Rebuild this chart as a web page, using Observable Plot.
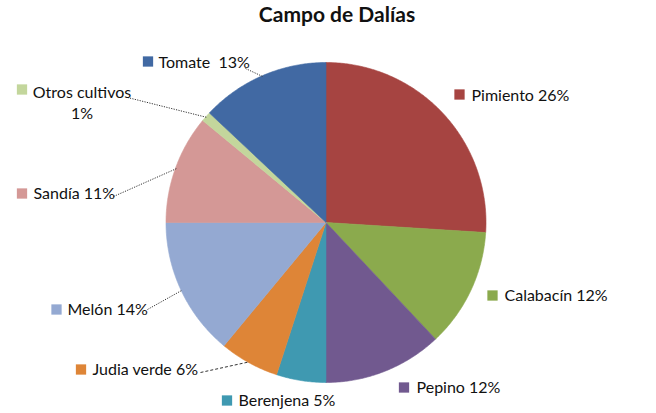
<!DOCTYPE html>
<html>
<head>
<meta charset="utf-8">
<script src="https://cdn.jsdelivr.net/npm/d3@7"></script>
<script src="https://cdn.jsdelivr.net/npm/@observablehq/plot@0.6"></script>
<style>
  body { margin: 0; background: #fff; }
  #chart svg { display: block; }
</style>
</head>
<body>
<div id="chart"></div>
<script>
// ---- data ----
const title = "Campo de Dalías";
const categories = ["Pimiento", "Calabacín", "Pepino", "Berenjena", "Judia verde", "Melón", "Sandía", "Otros cultivos", "Tomate"];
const values = [26, 12, 12, 5, 6, 14, 11, 1, 13];
const labelTexts = ["Pimiento 26%", "Calabacín 12%", "Pepino 12%", "Berenjena 5%", "Judia verde 6%", "Melón 14%", "Sandía 11%", "Otros cultivos\n1%", "Tomate  13%"];

// ---- styles ----
const colors = ["#A64441", "#8BAA4D", "#71598F", "#3F99B1", "#DE8537", "#94A9D2", "#D49896", "#C3D69C", "#4169A3"];

// ---- layout ----
const W = 656, H = 413;
const cx = 325.5, cy = 222, R = 160;
// label text position, anchor, marker square position, leader start (if any)
const labelLayout = [
  {tx: 471, ty: 95,    anchor: "start",  sx: 459, sy: 94},
  {tx: 504, ty: 295,   anchor: "start",  sx: 492, sy: 295},
  {tx: 416, ty: 387,   anchor: "start",  sx: 403.5, sy: 387},
  {tx: 238, ty: 400,   anchor: "start",  sx: 226.5, sy: 400},
  {tx: 92,  ty: 369,   anchor: "start",  sx: 80.5, sy: 369, lx: 200, ly: 372, dash: "3,2"},
  {tx: 67,  ty: 309,   anchor: "start",  sx: 56, sy: 309, lx: 147, ly: 309},
  {tx: 33,  ty: 193,   anchor: "start",  sx: 21.5, sy: 193, lx: 113, ly: 196},
  {tx: 81.5,ty: 101,   anchor: "middle", sx: 21.5, sy: 89, lx: 127, ly: 97},
  {tx: 158, ty: 62,    anchor: "start",  sx: 147.5, sy: 61, lx: 245, ly: 68}
];

// ---- geometry via d3.pie ----
const arcs = d3.pie().sort(null).value(d => d)(values);
const polar = (a, r) => [cx + r * Math.sin(a), cy - r * Math.cos(a)];
const poly = [];
arcs.forEach((a, i) => {
  const name = categories[i];
  poly.push({name, x: cx, y: cy});
  const steps = Math.max(2, Math.ceil((a.endAngle - a.startAngle) / (Math.PI / 360)));
  for (let k = 0; k <= steps; k++) {
    const ang = a.startAngle + (a.endAngle - a.startAngle) * k / steps;
    const [x, y] = polar(ang, R);
    poly.push({name, x, y});
  }
  poly.push({name, x: cx, y: cy});
});

const labels = categories.map((name, i) => ({name, text: labelTexts[i], ...labelLayout[i]}));
const leaders = labels
  .map((d, i) => {
    if (d.lx == null) return null;
    const mid = (arcs[i].startAngle + arcs[i].endAngle) / 2;
    const [x2, y2] = polar(mid, R - 1);
    return {name: d.name, x1: d.lx, y1: d.ly, x2, y2, dash: d.dash || "1.2,1.3"};
  })
  .filter(d => d);

const font = "Lato, 'Open Sans', sans-serif";

const chart = Plot.plot({
  width: W,
  height: H,
  margin: 0,
  style: {fontFamily: font, background: "#fff", overflow: "visible"},
  x: {domain: [0, W], range: [0, W], axis: null},
  y: {domain: [0, H], range: [0, H], axis: null},
  color: {type: "ordinal", domain: categories, range: colors},
  marks: [
    Plot.line(poly, {x: "x", y: "y", z: "name", fill: "name", stroke: "name", strokeWidth: 0.6, curve: "linear"}),
    ...leaders.map(l => Plot.link([l], {x1: "x1", y1: "y1", x2: "x2", y2: "y2", stroke: "#333", strokeWidth: 1, strokeDasharray: l.dash})),
    Plot.dot(labels, {x: "sx", y: "sy", symbol: "square", r: 5.8, fill: "name", stroke: null}),
    Plot.text(labels.filter(d => d.anchor === "start"), {x: "tx", y: "ty", text: "text", textAnchor: "start", fontSize: 16, fill: "#111"}),
    Plot.text(labels.filter(d => d.anchor === "middle"), {x: "tx", y: "ty", text: "text", textAnchor: "middle", fontSize: 16, lineHeight: 1.32, fill: "#111"}),
    Plot.text([title], {x: () => 336.5, y: () => 15, text: d => d, fontSize: 21, fontWeight: "bold", fill: "#111"})
  ]
});
document.getElementById("chart").appendChild(chart);
</script>
</body>
</html>
